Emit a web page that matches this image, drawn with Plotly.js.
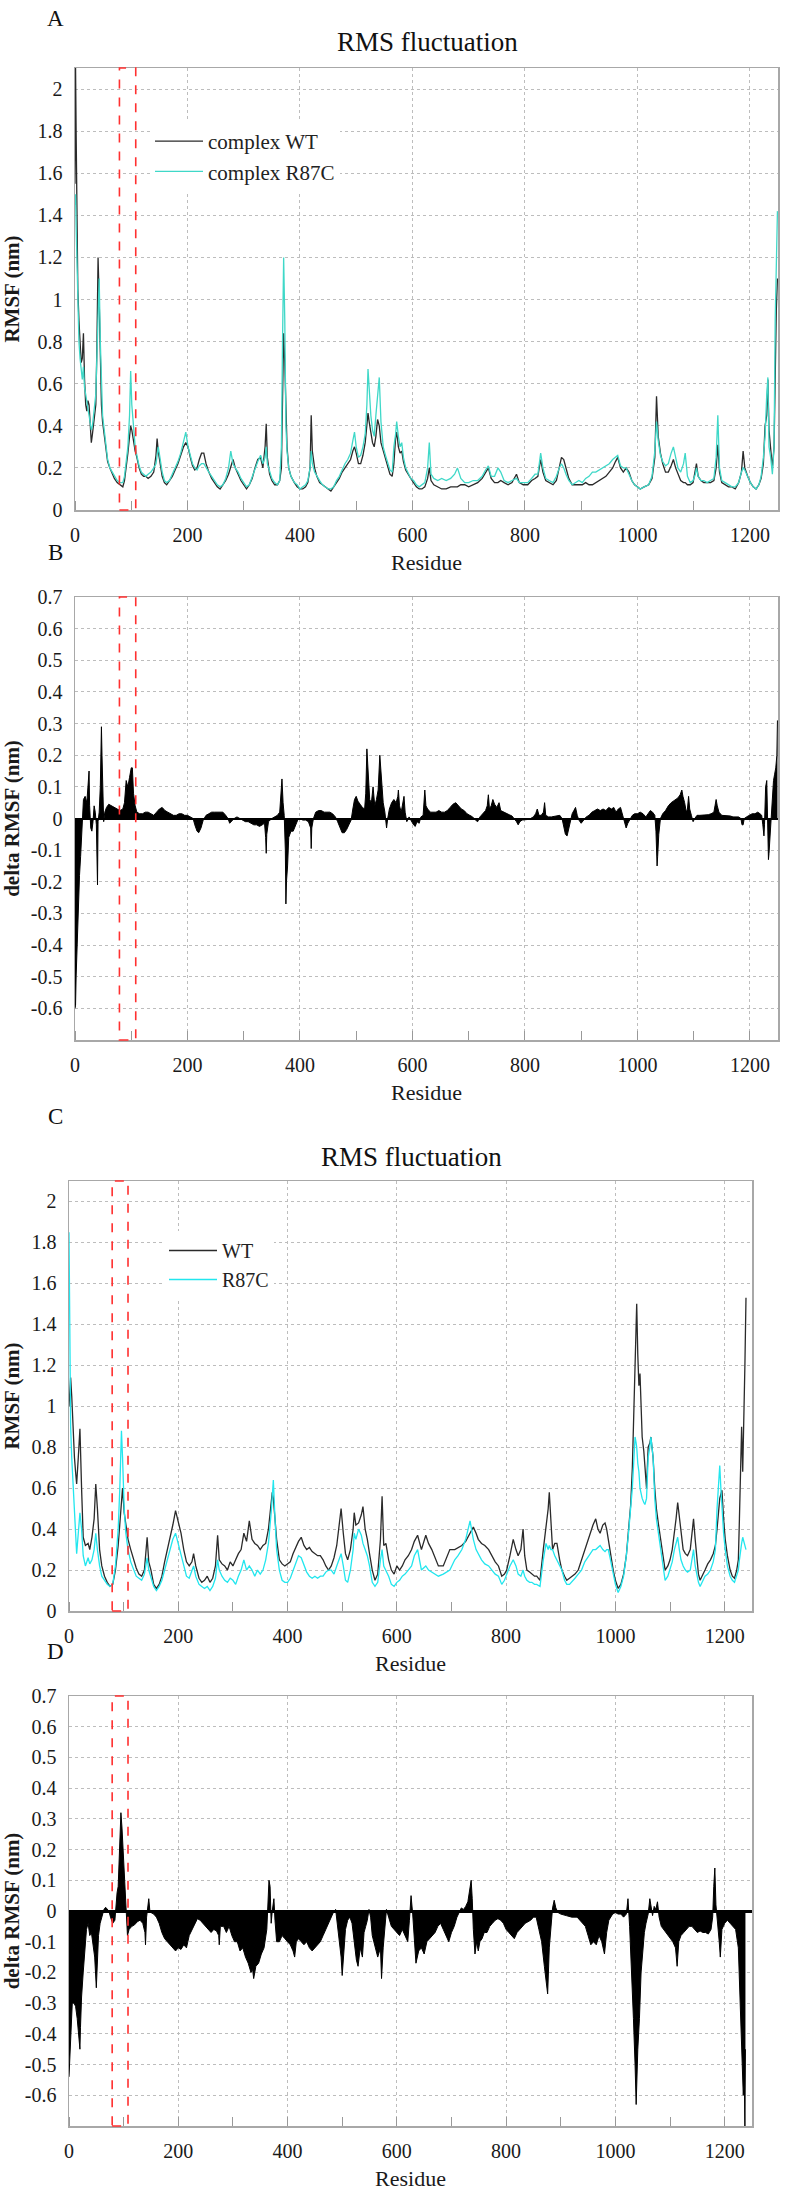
<!DOCTYPE html>
<html>
<head>
<meta charset="utf-8">
<script src="https://cdn.plot.ly/plotly-3.0.1.min.js"></script>
<style>html,body{margin:0;padding:0;background:#fff;}</style>
</head>
<body>
<div id="chart" style="width:790px;height:2193px;"></div>
<script>
// ---------- Panel A: complex RMSF ----------
const resA = [
 0,1,2,3,5,7,9,11,13,15,
 17,19,21,23,25,27,29,31,33,35,
 37,39,41,43,45,47,49,52,55,58,
 62,66,70,75,80,85,88,91,94,97,
 99,101,104,107,110,114,118,122,126,130,
 135,140,144,146,148,151,155,159,163,168,
 173,178,183,188,193,197,201,205,209,213,
 217,221,225,229,233,238,243,248,253,258,
 263,268,273,277,281,285,290,295,300,305,
 310,315,320,325,330,334,338,340,342,346,
 350,355,360,364,367,369,371,373,375,377,
 380,384,390,395,400,405,410,414,418,420,
 422,426,430,435,440,445,450,455,460,465,
 470,475,480,485,490,494,497,500,504,508,
 512,516,519,521,523,526,529,532,535,538,
 541,544,548,552,556,560,564,567,570,572,
 575,578,581,584,588,592,597,602,607,612,
 617,622,627,630,633,638,645,652,660,668,
 675,680,686,693,700,708,716,724,730,735,
 740,746,752,757,763,770,777,785,790,797,
 805,812,818,823,828,832,837,843,850,856,
 861,865,869,873,878,884,890,896,902,908,
 914,920,926,932,938,944,950,956,961,965,
 970,975,980,985,990,995,1000,1005,1012,1020,
 1026,1031,1034,1037,1041,1045,1050,1055,1060,1064,
 1068,1072,1077,1082,1085,1089,1094,1099,1103,1105,
 1108,1113,1118,1124,1130,1136,1140,1143,1146,1150,
 1156,1162,1168,1174,1180,1185,1188,1191,1196,1201,
 1206,1211,1216,1220,1224,1227,1230,1232,1234,1237,
 1240,1243,1245,1247,1249
];
const wtA = [
 1.55,2.1,1.8,1.35,1.05,0.9,0.8,0.7,0.72,0.84,
 0.62,0.5,0.47,0.52,0.5,0.4,0.32,0.36,0.42,0.45,
 0.5,0.78,1.2,1.0,0.7,0.5,0.42,0.35,0.28,0.23,
 0.2,0.17,0.15,0.13,0.12,0.11,0.14,0.2,0.27,0.35,
 0.4,0.38,0.32,0.28,0.25,0.2,0.17,0.16,0.16,0.15,
 0.16,0.18,0.26,0.34,0.28,0.22,0.16,0.13,0.12,0.14,
 0.16,0.19,0.22,0.26,0.3,0.32,0.3,0.25,0.21,0.19,
 0.2,0.24,0.27,0.27,0.22,0.18,0.15,0.13,0.11,0.1,
 0.12,0.14,0.17,0.2,0.24,0.2,0.17,0.14,0.12,0.1,
 0.12,0.15,0.2,0.24,0.25,0.2,0.3,0.41,0.25,0.17,
 0.14,0.12,0.12,0.14,0.2,0.5,0.84,0.7,0.45,0.3,
 0.2,0.16,0.13,0.11,0.1,0.1,0.11,0.13,0.2,0.45,
 0.28,0.2,0.16,0.13,0.12,0.11,0.1,0.09,0.11,0.13,
 0.15,0.18,0.2,0.22,0.24,0.28,0.3,0.27,0.22,0.22,
 0.26,0.32,0.4,0.46,0.42,0.36,0.32,0.3,0.35,0.43,
 0.4,0.32,0.28,0.24,0.2,0.17,0.16,0.22,0.34,0.37,
 0.3,0.27,0.28,0.23,0.19,0.17,0.15,0.13,0.11,0.1,
 0.1,0.11,0.15,0.2,0.14,0.12,0.11,0.1,0.1,0.11,
 0.11,0.11,0.12,0.12,0.11,0.12,0.13,0.15,0.18,0.2,
 0.15,0.13,0.13,0.14,0.13,0.12,0.13,0.17,0.13,0.12,
 0.12,0.14,0.15,0.16,0.24,0.18,0.14,0.13,0.12,0.14,
 0.2,0.25,0.24,0.2,0.15,0.12,0.12,0.12,0.12,0.13,
 0.12,0.12,0.13,0.14,0.15,0.16,0.18,0.2,0.23,0.25,
 0.2,0.18,0.2,0.18,0.14,0.12,0.11,0.1,0.11,0.12,
 0.15,0.25,0.54,0.35,0.27,0.22,0.18,0.18,0.21,0.24,
 0.2,0.17,0.14,0.13,0.13,0.12,0.12,0.13,0.18,0.22,
 0.16,0.14,0.13,0.13,0.13,0.14,0.2,0.31,0.18,0.13,
 0.12,0.11,0.11,0.1,0.13,0.18,0.28,0.2,0.16,0.13,
 0.11,0.1,0.12,0.15,0.22,0.4,0.45,0.62,0.38,0.28,
 0.2,0.3,0.7,0.95,1.1
];
const r87cA = [
 1.45,1.5,1.35,1.2,0.95,0.8,0.72,0.65,0.62,0.68,
 0.58,0.55,0.5,0.48,0.45,0.42,0.38,0.4,0.44,0.5,
 0.55,0.7,0.9,1.1,0.8,0.6,0.45,0.38,0.3,0.24,
 0.2,0.18,0.16,0.14,0.13,0.13,0.16,0.22,0.3,0.45,
 0.66,0.5,0.4,0.3,0.26,0.21,0.18,0.17,0.16,0.17,
 0.18,0.2,0.22,0.26,0.3,0.25,0.18,0.14,0.13,0.14,
 0.17,0.2,0.23,0.27,0.32,0.37,0.3,0.26,0.22,0.2,
 0.19,0.21,0.22,0.22,0.2,0.18,0.16,0.14,0.12,0.11,
 0.12,0.15,0.2,0.28,0.22,0.2,0.18,0.15,0.13,0.11,
 0.12,0.16,0.2,0.23,0.26,0.22,0.25,0.3,0.22,0.18,
 0.15,0.13,0.12,0.14,0.3,0.8,1.2,0.9,0.4,0.28,
 0.2,0.16,0.13,0.12,0.1,0.11,0.12,0.14,0.2,0.28,
 0.22,0.18,0.16,0.14,0.12,0.11,0.1,0.1,0.11,0.14,
 0.16,0.19,0.22,0.24,0.27,0.33,0.37,0.3,0.25,0.26,
 0.3,0.36,0.5,0.67,0.55,0.45,0.38,0.35,0.45,0.55,
 0.63,0.42,0.3,0.26,0.22,0.19,0.18,0.3,0.36,0.42,
 0.35,0.3,0.32,0.25,0.2,0.18,0.15,0.14,0.12,0.11,
 0.12,0.13,0.2,0.32,0.17,0.15,0.14,0.15,0.14,0.15,
 0.17,0.2,0.15,0.13,0.13,0.14,0.14,0.16,0.19,0.21,
 0.16,0.16,0.2,0.18,0.14,0.13,0.14,0.15,0.13,0.13,
 0.13,0.15,0.17,0.17,0.27,0.2,0.15,0.14,0.13,0.16,
 0.2,0.22,0.2,0.17,0.14,0.12,0.13,0.14,0.13,0.15,
 0.16,0.18,0.18,0.19,0.2,0.21,0.22,0.24,0.25,0.26,
 0.21,0.2,0.2,0.17,0.14,0.12,0.11,0.1,0.11,0.12,
 0.16,0.28,0.42,0.33,0.26,0.23,0.21,0.22,0.27,0.3,
 0.25,0.2,0.18,0.22,0.27,0.16,0.13,0.14,0.17,0.2,
 0.16,0.14,0.14,0.13,0.14,0.15,0.25,0.45,0.2,0.14,
 0.13,0.12,0.11,0.11,0.13,0.18,0.2,0.19,0.16,0.13,
 0.11,0.1,0.12,0.16,0.25,0.35,0.55,0.63,0.3,0.25,
 0.17,0.3,0.9,1.2,1.42
];

// ---------- Panel B: delta RMSF (complex), [residue, value] ----------
const deltaB = [
 [0,-0.6],[1,-0.59],[2,-0.5],[3,-0.45],[4,-0.38],[5,-0.3],[6,-0.25],[8,-0.18],[10,-0.12],[12,-0.06],
 [13,0.0],[15,0.06],[18,0.07],[21,0.05],[23,0.1],[25,0.15],[26,0.04],[28,-0.03],[30,-0.04],[32,-0.01],
 [34,0.04],[36,0.02],[38,-0.02],[40,-0.21],[41,-0.01],[43,0.02],[45,0.1],[47,0.29],[48,0.2],[49,0.08],
 [51,-0.01],[53,0.02],[56,0.035],[60,0.045],[65,0.04],[70,0.035],[75,0.03],[80,0.025],[85,0.03],[88,0.05],
 [91,0.12],[94,0.1],[97,0.13],[100,0.16],[102,0.16],[104,0.08],[107,0.04],[110,0.02],[115,0.015],[120,0.015],
 [125,0.02],[130,0.02],[135,0.015],[140,0.01],[145,0.02],[150,0.03],[155,0.035],[160,0.025],[165,0.02],[170,0.015],
 [175,0.01],[180,0.01],[185,0.015],[190,0.015],[195,0.01],[200,0.01],[205,0.005],[210,0.0],[213,-0.02],[217,-0.04],
 [220,-0.045],[224,-0.03],[228,-0.005],[233,0.01],[238,0.015],[243,0.02],[248,0.02],[253,0.02],[258,0.02],[263,0.02],
 [268,0.01],[272,0.0],[275,-0.015],[278,-0.01],[283,0.0],[288,0.005],[293,0.0],[298,-0.005],[303,-0.01],[308,-0.01],
 [313,-0.015],[318,-0.02],[323,-0.02],[328,-0.025],[333,-0.02],[337,-0.015],[339,-0.06],[340,-0.11],[341,-0.05],[344,-0.01],
 [350,0.0],[355,0.005],[360,0.01],[364,0.02],[366,0.08],[368,0.125],[370,0.05],[372,0.01],[374,-0.1],[375,-0.27],
 [376,-0.2],[378,-0.15],[380,-0.06],[384,-0.04],[388,-0.04],[392,-0.02],[396,-0.005],[400,0.0],[405,-0.005],[410,-0.005],
 [415,-0.01],[419,-0.03],[420,-0.095],[421,-0.03],[424,0.0],[428,0.02],[433,0.025],[438,0.025],[443,0.02],[448,0.02],
 [453,0.02],[458,0.015],[463,0.005],[467,-0.01],[471,-0.03],[475,-0.045],[479,-0.045],[483,-0.035],[487,-0.02],[491,-0.005],
 [494,0.03],[497,0.06],[500,0.07],[503,0.055],[507,0.045],[511,0.035],[515,0.03],[517,0.08],[519,0.22],[520,0.18],
 [522,0.15],[524,0.06],[527,0.05],[530,0.1],[533,0.04],[536,0.06],[539,0.09],[541,0.18],[542,0.2],[544,0.15],
 [546,0.1],[548,0.05],[551,0.02],[554,-0.03],[556,0.0],[559,0.03],[563,0.05],[567,0.06],[571,0.05],[574,0.07],
 [575,0.09],[577,0.04],[580,0.02],[583,0.05],[585,0.07],[587,0.02],[590,-0.01],[594,0.005],[598,-0.01],[602,-0.02],
 [605,-0.025],[608,-0.01],[612,-0.015],[615,0.005],[619,0.01],[621,0.05],[622,0.09],[624,0.04],[627,0.03],[632,0.02],
 [637,0.02],[642,0.02],[647,0.025],[652,0.02],[657,0.02],[662,0.025],[667,0.035],[672,0.045],[677,0.05],[682,0.04],
 [687,0.03],[692,0.025],[697,0.015],[702,0.01],[707,0.005],[712,-0.005],[716,-0.01],[720,0.005],[725,0.015],[730,0.025],
 [733,0.04],[735,0.075],[737,0.03],[740,0.04],[743,0.06],[746,0.045],[750,0.035],[754,0.05],[757,0.025],[762,0.02],
 [767,0.015],[772,0.012],[777,0.008],[781,0.0],[785,-0.01],[788,-0.02],[791,-0.01],[795,-0.005],[800,-0.005],[805,-0.003],
 [810,0.0],[815,0.005],[819,0.015],[822,0.03],[825,0.01],[829,0.01],[833,0.02],[835,0.05],[837,0.01],[842,0.005],
 [847,0.005],[852,0.006],[857,0.008],[862,0.01],[866,0.0],[869,-0.03],[872,-0.05],[875,-0.055],[878,-0.03],[881,-0.01],
 [884,0.015],[887,0.025],[890,0.035],[893,0.01],[896,-0.005],[900,-0.015],[904,-0.005],[909,0.005],[914,0.01],[919,0.02],
 [924,0.025],[929,0.03],[934,0.025],[939,0.03],[944,0.025],[949,0.035],[954,0.03],[958,0.035],[962,0.02],[966,0.03],
 [970,0.035],[974,0.01],[977,-0.01],[980,-0.03],[983,-0.015],[987,0.0],[991,0.01],[995,0.015],[1000,0.015],[1005,0.02],
 [1010,0.015],[1015,0.005],[1019,0.015],[1023,0.025],[1027,0.02],[1031,0.01],[1033,-0.04],[1035,-0.15],[1036,-0.12],[1038,-0.05],
 [1041,0.0],[1045,0.015],[1050,0.025],[1055,0.04],[1060,0.05],[1064,0.055],[1068,0.06],[1072,0.065],[1076,0.075],[1079,0.09],
 [1081,0.07],[1084,0.05],[1087,0.02],[1089,0.03],[1091,0.07],[1093,0.03],[1096,0.01],[1099,-0.01],[1102,0.0],[1106,0.01],
 [1111,0.01],[1116,0.01],[1121,0.012],[1126,0.012],[1131,0.015],[1136,0.02],[1138,0.04],[1140,0.06],[1142,0.04],[1145,0.02],
 [1150,0.01],[1155,0.01],[1160,0.01],[1165,0.008],[1170,0.005],[1175,0.005],[1180,0.005],[1184,0.0],[1186,-0.02],[1188,-0.02],
 [1190,0.0],[1194,0.005],[1199,0.01],[1204,0.015],[1209,0.015],[1214,0.02],[1218,0.015],[1221,0.01],[1223,-0.02],[1225,-0.055],
 [1226,-0.02],[1228,0.1],[1230,0.12],[1231,0.05],[1232,-0.08],[1233,-0.13],[1234,-0.11],[1236,-0.05],[1238,0.0],[1240,0.05],
 [1242,0.12],[1244,0.14],[1246,0.16],[1248,0.2],[1249,0.31]
];

// ---------- Panel C: protein RMSF ----------
const resC = [
 0,1,2,3,5,7,10,12,14,17,
 20,23,26,30,35,38,42,46,49,52,
 56,60,65,70,75,80,85,90,93,96,
 98,101,104,108,113,118,123,128,133,138,
 143,146,150,155,160,165,170,175,180,185,
 190,195,200,205,210,215,220,225,228,232,
 238,243,248,253,258,263,268,272,275,280,
 285,290,295,300,305,310,315,320,325,330,
 335,340,345,350,355,360,365,370,372,374,
 377,380,385,390,395,400,405,410,415,420,
 425,430,435,440,445,450,455,460,465,470,
 475,480,485,490,495,498,502,506,510,515,
 520,522,525,530,535,538,542,546,550,555,
 560,565,570,573,576,580,585,590,595,600,
 605,610,615,621,627,632,638,645,653,658,
 664,670,676,685,691,697,706,712,719,726,
 734,740,745,749,755,761,768,774,780,786,
 792,797,801,807,813,818,822,827,831,834,
 838,843,847,852,856,862,868,873,877,879,
 882,885,889,893,898,902,907,911,916,920,
 926,932,938,944,949,954,959,964,968,972,
 977,981,984,987,991,996,1000,1005,1010,1015,
 1020,1024,1028,1031,1034,1036,1038,1039,1041,1043,
 1045,1047,1049,1052,1054,1057,1060,1063,1065,1069,
 1072,1075,1079,1083,1087,1091,1096,1100,1104,1108,
 1111,1114,1117,1120,1124,1128,1132,1137,1140,1143,
 1146,1149,1152,1155,1159,1164,1169,1174,1179,1183,
 1186,1189,1191,1193,1195,1198,1201,1205,1210,1214,
 1218,1222,1225,1227,1229,1231,1233,1235,1237,1239
];
const wtC = [
 1.0,1.05,1.1,1.14,1.05,0.9,0.75,0.68,0.62,0.75,
 0.89,0.6,0.36,0.32,0.33,0.3,0.36,0.45,0.62,0.5,
 0.3,0.22,0.17,0.14,0.12,0.13,0.2,0.32,0.42,0.55,
 0.6,0.48,0.42,0.35,0.3,0.25,0.21,0.18,0.17,0.2,
 0.36,0.24,0.2,0.13,0.11,0.13,0.17,0.24,0.3,0.35,
 0.42,0.49,0.44,0.38,0.3,0.24,0.22,0.24,0.28,0.22,
 0.16,0.14,0.15,0.17,0.14,0.16,0.22,0.37,0.25,0.23,
 0.22,0.2,0.24,0.22,0.25,0.28,0.3,0.38,0.34,0.44,
 0.35,0.33,0.32,0.3,0.32,0.33,0.4,0.55,0.58,0.55,
 0.45,0.35,0.25,0.23,0.22,0.23,0.24,0.28,0.31,0.34,
 0.36,0.32,0.3,0.31,0.29,0.28,0.27,0.27,0.25,0.22,
 0.2,0.22,0.26,0.32,0.42,0.5,0.38,0.28,0.25,0.3,
 0.4,0.48,0.42,0.43,0.47,0.51,0.4,0.35,0.28,0.2,
 0.15,0.18,0.35,0.56,0.32,0.33,0.25,0.2,0.18,0.22,
 0.2,0.22,0.25,0.27,0.3,0.34,0.37,0.3,0.37,0.33,
 0.3,0.26,0.22,0.22,0.26,0.3,0.3,0.31,0.32,0.34,
 0.38,0.41,0.38,0.35,0.33,0.32,0.3,0.27,0.24,0.22,
 0.17,0.18,0.2,0.27,0.35,0.3,0.27,0.3,0.4,0.27,
 0.2,0.19,0.18,0.17,0.17,0.15,0.3,0.4,0.5,0.58,
 0.45,0.3,0.33,0.33,0.25,0.2,0.17,0.15,0.16,0.17,
 0.18,0.2,0.25,0.3,0.33,0.38,0.42,0.45,0.4,0.38,
 0.42,0.43,0.4,0.35,0.28,0.2,0.15,0.11,0.13,0.18,
 0.27,0.38,0.52,0.7,0.95,1.2,1.4,1.5,1.25,1.1,
 1.16,0.95,0.85,0.78,0.7,0.6,0.8,0.82,0.85,0.75,
 0.6,0.5,0.42,0.35,0.27,0.2,0.22,0.25,0.3,0.38,
 0.45,0.53,0.45,0.38,0.3,0.28,0.27,0.3,0.38,0.45,
 0.35,0.25,0.18,0.15,0.17,0.2,0.23,0.25,0.28,0.32,
 0.4,0.5,0.55,0.57,0.59,0.45,0.35,0.27,0.2,0.17,
 0.16,0.2,0.25,0.45,0.7,0.9,0.68,0.9,1.2,1.53
];
const r87cC = [
 1.85,1.6,1.2,0.9,0.75,0.65,0.5,0.35,0.28,0.38,
 0.48,0.4,0.27,0.22,0.26,0.23,0.25,0.3,0.38,0.3,
 0.22,0.17,0.15,0.13,0.12,0.13,0.22,0.4,0.6,0.88,
 0.75,0.5,0.38,0.3,0.24,0.2,0.17,0.16,0.15,0.18,
 0.26,0.2,0.16,0.12,0.1,0.12,0.15,0.2,0.25,0.3,
 0.35,0.38,0.33,0.27,0.22,0.17,0.16,0.2,0.22,0.17,
 0.13,0.12,0.11,0.12,0.1,0.12,0.16,0.25,0.2,0.17,
 0.15,0.14,0.16,0.15,0.13,0.17,0.2,0.25,0.2,0.22,
 0.2,0.17,0.2,0.18,0.2,0.25,0.33,0.48,0.6,0.64,
 0.45,0.3,0.2,0.15,0.14,0.14,0.16,0.2,0.24,0.27,
 0.26,0.22,0.19,0.17,0.16,0.17,0.16,0.17,0.17,0.19,
 0.2,0.2,0.18,0.22,0.26,0.28,0.22,0.15,0.14,0.2,
 0.3,0.38,0.35,0.4,0.37,0.33,0.3,0.27,0.22,0.14,
 0.12,0.14,0.25,0.3,0.22,0.2,0.17,0.13,0.12,0.14,
 0.15,0.17,0.18,0.2,0.22,0.27,0.3,0.2,0.22,0.2,
 0.19,0.18,0.17,0.18,0.19,0.2,0.25,0.27,0.3,0.35,
 0.44,0.35,0.3,0.28,0.25,0.23,0.22,0.2,0.18,0.17,
 0.13,0.15,0.18,0.22,0.25,0.22,0.18,0.17,0.2,0.17,
 0.15,0.14,0.14,0.13,0.13,0.12,0.25,0.33,0.3,0.32,
 0.3,0.3,0.27,0.25,0.22,0.2,0.15,0.13,0.13,0.14,
 0.16,0.18,0.2,0.24,0.26,0.28,0.3,0.3,0.31,0.32,
 0.3,0.29,0.3,0.3,0.25,0.19,0.13,0.09,0.12,0.17,
 0.27,0.38,0.5,0.6,0.75,0.85,0.82,0.8,0.72,0.68,
 0.6,0.57,0.55,0.53,0.52,0.55,0.75,0.8,0.85,0.75,
 0.55,0.45,0.38,0.3,0.22,0.15,0.17,0.2,0.24,0.3,
 0.33,0.36,0.3,0.25,0.22,0.2,0.19,0.2,0.25,0.3,
 0.22,0.17,0.14,0.12,0.14,0.17,0.18,0.2,0.24,0.3,
 0.5,0.65,0.71,0.6,0.5,0.38,0.3,0.22,0.17,0.15,
 0.14,0.17,0.2,0.25,0.3,0.33,0.36,0.34,0.32,0.3
];

// ---------- Panel D: delta RMSF (protein), [residue, value] ----------
const deltaD = [
 [0,-0.54],[1,-0.5],[2,-0.45],[4,-0.35],[6,-0.3],[9,-0.3],[12,-0.31],[15,-0.35],[18,-0.4],[20,-0.45],
 [21,-0.38],[23,-0.28],[26,-0.2],[29,-0.12],[32,-0.06],[35,-0.04],[38,-0.08],[41,-0.07],[44,-0.11],[47,-0.15],
 [50,-0.25],[52,-0.16],[54,-0.08],[57,-0.04],[60,-0.02],[64,0.005],[67,0.012],[70,0.005],[73,0.0],[76,-0.02],
 [80,-0.04],[84,-0.03],[86,0.02],[88,0.06],[90,0.08],[92,0.2],[94,0.3],[95,0.32],[97,0.27],[99,0.2],
 [101,0.1],[103,0.02],[105,-0.05],[107,-0.08],[110,-0.06],[115,-0.05],[120,-0.045],[125,-0.035],[130,-0.03],[135,-0.04],
 [139,-0.07],[140,-0.11],[142,-0.02],[144,0.02],[146,0.04],[148,0.0],[150,-0.005],[155,-0.01],[160,-0.02],[165,-0.04],
 [170,-0.07],[175,-0.09],[180,-0.1],[185,-0.11],[190,-0.12],[195,-0.13],[200,-0.12],[205,-0.125],[210,-0.11],[215,-0.12],
 [220,-0.08],[225,-0.06],[230,-0.04],[235,-0.025],[240,-0.03],[245,-0.04],[250,-0.05],[255,-0.06],[260,-0.07],[265,-0.06],
 [270,-0.065],[274,-0.08],[275,-0.11],[277,-0.05],[283,-0.05],[288,-0.07],[293,-0.05],[298,-0.08],[303,-0.1],[308,-0.1],
 [313,-0.13],[318,-0.12],[323,-0.15],[328,-0.17],[333,-0.2],[336,-0.19],[338,-0.22],[342,-0.18],[347,-0.17],[352,-0.14],
 [357,-0.12],[362,-0.06],[364,0.0],[366,0.1],[368,0.08],[370,-0.04],[372,0.0],[375,0.04],[377,-0.03],[380,-0.1],
 [385,-0.1],[390,-0.08],[395,-0.09],[400,-0.1],[405,-0.11],[410,-0.13],[413,-0.15],[416,-0.1],[420,-0.09],[425,-0.1],
 [430,-0.11],[435,-0.1],[440,-0.12],[445,-0.13],[450,-0.12],[455,-0.11],[460,-0.1],[465,-0.08],[470,-0.06],[475,-0.04],
 [480,-0.02],[485,0.0],[488,0.005],[492,-0.05],[495,-0.1],[498,-0.15],[500,-0.21],[503,-0.12],[506,-0.06],[510,-0.03],
 [514,-0.02],[518,-0.04],[522,-0.1],[526,-0.16],[529,-0.18],[533,-0.12],[537,-0.15],[540,-0.07],[543,-0.05],[546,-0.03],
 [549,0.005],[552,-0.02],[555,-0.08],[560,-0.12],[565,-0.15],[570,-0.12],[572,-0.22],[575,-0.12],[578,-0.04],[581,0.005],
 [585,-0.02],[590,-0.05],[595,-0.06],[600,-0.07],[605,-0.08],[610,-0.06],[615,-0.08],[620,-0.1],[623,-0.03],[626,0.05],
 [629,-0.01],[632,-0.1],[635,-0.17],[640,-0.13],[645,-0.12],[650,-0.14],[655,-0.1],[660,-0.09],[665,-0.08],[670,-0.07],
 [675,-0.05],[680,-0.04],[685,-0.06],[690,-0.08],[695,-0.1],[700,-0.07],[705,-0.05],[710,-0.02],[715,0.0],[718,0.01],
 [722,0.005],[726,0.015],[730,0.03],[733,0.06],[736,0.1],[738,0.04],[740,-0.06],[743,-0.14],[746,-0.1],[749,-0.13],
 [752,-0.1],[756,-0.09],[760,-0.07],[765,-0.07],[770,-0.05],[775,-0.04],[780,-0.03],[785,-0.025],[790,-0.03],[795,-0.04],
 [800,-0.06],[805,-0.07],[810,-0.08],[815,-0.09],[820,-0.07],[825,-0.06],[830,-0.05],[835,-0.04],[840,-0.035],[845,-0.03],
 [850,-0.02],[855,-0.02],[860,-0.06],[865,-0.1],[870,-0.18],[873,-0.22],[876,-0.27],[879,-0.12],[882,-0.04],[885,0.01],
 [888,0.035],[891,0.01],[895,-0.005],[900,-0.01],[910,-0.015],[920,-0.02],[930,-0.02],[940,-0.04],[945,-0.05],[950,-0.08],
 [955,-0.11],[960,-0.1],[965,-0.11],[970,-0.08],[975,-0.1],[980,-0.14],[984,-0.07],[988,-0.03],[995,-0.01],[1000,-0.005],
 [1005,-0.01],[1010,-0.01],[1015,-0.02],[1020,-0.01],[1023,0.04],[1026,-0.05],[1030,-0.2],[1033,-0.35],[1036,-0.5],[1038,-0.63],
 [1041,-0.45],[1044,-0.35],[1047,-0.2],[1050,-0.12],[1053,-0.07],[1056,-0.04],[1060,-0.01],[1063,0.04],[1066,0.01],[1068,-0.015],
 [1071,0.015],[1074,0.005],[1077,0.03],[1080,-0.02],[1084,-0.05],[1088,-0.06],[1092,-0.07],[1096,-0.08],[1100,-0.09],[1105,-0.1],
 [1110,-0.12],[1113,-0.18],[1116,-0.1],[1120,-0.08],[1125,-0.07],[1130,-0.06],[1135,-0.05],[1140,-0.05],[1145,-0.06],[1150,-0.07],
 [1155,-0.065],[1160,-0.07],[1165,-0.07],[1170,-0.075],[1175,-0.06],[1178,-0.02],[1180,0.08],[1182,0.14],[1184,0.02],[1187,-0.03],
 [1190,-0.1],[1192,-0.15],[1195,-0.06],[1200,-0.04],[1205,-0.03],[1210,-0.04],[1215,-0.05],[1220,-0.06],[1225,-0.12],[1228,-0.3],
 [1231,-0.45],[1234,-0.6],[1236,-0.55],[1237,-0.7],[1238,-0.45]
];

// tick labels
const rmsfTicks = [0,0.2,0.4,0.6,0.8,1,1.2,1.4,1.6,1.8,2];
const deltaTickVals = [-0.6,-0.5,-0.4,-0.3,-0.2,-0.1,0,0.1,0.2,0.3,0.4,0.5,0.6,0.7];
const deltaTickText = ["-0.6","-0.5","-0.4","-0.3","-0.2","-0.1","0","0.1","0.2","0.3","0.4","0.5","0.6","0.7"];
const residueTicks = [0,200,400,600,800,1000,1200];
const boxRange = [79, 108];

// ---------- style ----------
const FONT = 'Liberation Serif, Times New Roman, serif';
const W = 790, H = 2193;
const px = v => v / W;
const py = v => 1 - v / H;
const WT_COLOR = '#2a2a2a';
const MUT_A = '#3fd8c8';
const MUT_C = '#22e6ee';

function xAxis(l, r, anchor) {
  return {
    domain: [px(l), px(r)], anchor: anchor, range: [0, 1250],
    tickvals: residueTicks, ticks: '', ticklabelstandoff: 6,
    showgrid: true, gridcolor: '#bdbdbd', griddash: 'dot', gridwidth: 1,
    showline: true, mirror: true, linecolor: '#a8a8a8', linewidth: 1.5, zeroline: false,
    minor: {dtick: 100, tick0: 0, ticks: 'inside', ticklen: 9, tickcolor: '#999', tickwidth: 1, showgrid: false},
    tickfont: {family: FONT, size: 20, color: '#1a1a1a'},
    title: {text: 'Residue', font: {family: FONT, size: 22, color: '#1a1a1a'}, standoff: 10}
  };
}
function yAxis(top, bottom, anchor, range, vals, text, title, zl, zw) {
  return {
    domain: [py(bottom), py(top)], anchor: anchor, range: range,
    tickvals: vals, ticktext: text, ticks: '', ticklabelstandoff: 7,
    showgrid: true, gridcolor: '#bdbdbd', griddash: 'dot', gridwidth: 1,
    showline: true, mirror: true, linecolor: '#a8a8a8', linewidth: 1.5,
    zeroline: zl, zerolinecolor: '#000', zerolinewidth: zw,
    tickfont: {family: FONT, size: 20, color: '#1a1a1a'},
    title: {text: title, font: {family: FONT, size: 21, color: '#1a1a1a', weight: 'bold'}, standoff: 14}
  };
}

const traces = [
  {x: resA, y: wtA, xaxis: 'x', yaxis: 'y', type: 'scatter', mode: 'lines', name: 'complex WT',
   line: {color: WT_COLOR, width: 1.3}, legend: 'legend'},
  {x: resA, y: r87cA, xaxis: 'x', yaxis: 'y', type: 'scatter', mode: 'lines', name: 'complex R87C',
   line: {color: MUT_A, width: 1.3}, legend: 'legend'},
  {x: deltaB.map(p => p[0]), y: deltaB.map(p => p[1]), xaxis: 'x2', yaxis: 'y2', type: 'scatter', mode: 'lines',
   fill: 'tozeroy', fillcolor: '#000', line: {color: '#000', width: 1}, showlegend: false, name: 'delta complex'},
  {x: resC, y: wtC, xaxis: 'x3', yaxis: 'y3', type: 'scatter', mode: 'lines', name: 'WT',
   line: {color: WT_COLOR, width: 1.3}, legend: 'legend2'},
  {x: resC, y: r87cC, xaxis: 'x3', yaxis: 'y3', type: 'scatter', mode: 'lines', name: 'R87C',
   line: {color: MUT_C, width: 1.3}, legend: 'legend2'},
  {x: deltaD.map(p => p[0]), y: deltaD.map(p => p[1]), xaxis: 'x4', yaxis: 'y4', type: 'scatter', mode: 'lines',
   fill: 'tozeroy', fillcolor: '#000', line: {color: '#000', width: 1}, showlegend: false, name: 'delta protein'}
];

function box(xr, yr) {
  return {type: 'rect', xref: xr, yref: yr + ' domain', x0: boxRange[0], x1: boxRange[1], y0: 0, y1: 1,
          line: {color: '#ff3030', width: 1.6, dash: 'dash'}, fillcolor: 'rgba(0,0,0,0)', layer: 'above'};
}
function label(text, x, y, size) {
  return {text: text, xref: 'paper', yref: 'paper', x: px(x), y: py(y), xanchor: 'center', yanchor: 'middle',
          showarrow: false, font: {family: FONT, size: size, color: '#111'}};
}

const layout = {
  width: W, height: H, margin: {l: 0, r: 0, t: 0, b: 0},
  paper_bgcolor: '#fff', plot_bgcolor: '#fff',
  font: {family: FONT, size: 20, color: '#1a1a1a'},
  showlegend: true,
  xaxis: xAxis(75, 778, 'y'),
  yaxis: yAxis(68, 510, 'x', [0, 2.1], rmsfTicks, null, 'RMSF (nm)', false, 1),
  xaxis2: xAxis(75, 778, 'y2'),
  yaxis2: yAxis(597, 1040, 'x2', [-0.7, 0.7], deltaTickVals, deltaTickText, 'delta RMSF (nm)', true, 2),
  xaxis3: xAxis(69, 752, 'y3'),
  yaxis3: yAxis(1181, 1611, 'x3', [0, 2.1], rmsfTicks, null, 'RMSF (nm)', false, 1),
  xaxis4: xAxis(69, 752, 'y4'),
  yaxis4: yAxis(1696, 2126, 'x4', [-0.7, 0.7], deltaTickVals, deltaTickText, 'delta RMSF (nm)', true, 3),
  legend: {x: px(150), y: py(121), xanchor: 'left', yanchor: 'top', bgcolor: '#fff', borderwidth: 0,
           itemwidth: 48, font: {family: FONT, size: 21, color: '#222'}, tracegroupgap: 0},
  legend2: {x: px(164), y: py(1231), xanchor: 'left', yanchor: 'top', bgcolor: '#fff', borderwidth: 0,
           itemwidth: 48, font: {family: FONT, size: 20, color: '#222'}, tracegroupgap: 0},
  shapes: [box('x', 'y'), box('x2', 'y2'), box('x3', 'y3'), box('x4', 'y4')],
  annotations: [
    label('A', 55, 18, 23), label('B', 55, 552, 23), label('C', 55, 1116, 23), label('D', 55, 1651, 23),
    label('RMS fluctuation', 427, 42, 27), label('RMS fluctuation', 411, 1157, 27)
  ]
};

Plotly.newPlot('chart', traces, layout, {staticPlot: true, displayModeBar: false});
</script>
</body>
</html>
